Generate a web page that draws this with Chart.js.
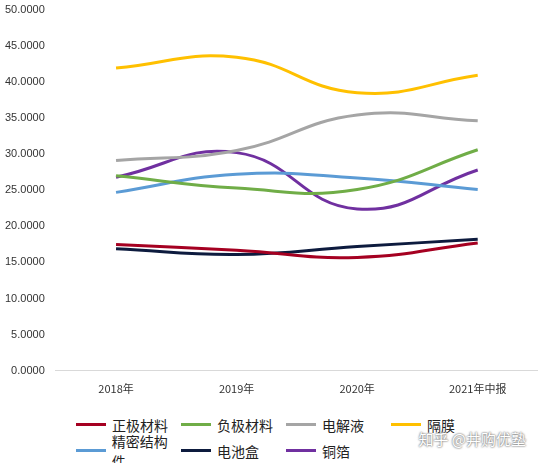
<!DOCTYPE html>
<html>
<head>
<meta charset="utf-8">
<script src="https://cdn.jsdelivr.net/npm/chart.js@4"></script>
<style>
  body { margin: 0; background: #fff; }
  #wrap { position: relative; width: 538px; height: 463px; }
  #mark { position: absolute; right: 12px; bottom: 14px; font: 15px "Noto Sans CJK SC"; color: #fff;
          text-shadow: 0 0 2px #777, 0 0 2px #777; }
  #legend { position: absolute; left: 76px; top: 410px; width: 460px; font: 14px "Noto Sans CJK SC"; color: #222; }
  .item { display: inline-flex; align-items: center; width: 105px; height: 23px; }
  .item span { display: inline-block; width: 30px; height: 3px; margin-right: 6px; }
</style>
</head>
<body>
<div id="wrap">
  <canvas id="chart" width="538" height="402"></canvas>
  <div id="legend"></div>
  <div id="mark">知乎 @井购优塾</div>
</div>
<script>
// Категории и значения серий
const categories = ['2018年', '2019年', '2020年', '2021年中报'];
const zhengji = [17.5, 16.7, 15.7, 17.7];
const fuji = [27.0, 25.3, 25.1, 30.6];
const dianjieye = [29.1, 30.5, 35.4, 34.6];
const gemo = [41.9, 43.4, 38.5, 40.9];
const jingmi = [24.7, 27.2, 26.7, 25.1];
const dianchihe = [16.9, 16.1, 17.2, 18.2];
const tongbo = [26.8, 30.2, 22.4, 27.8];

const series = [
  ['正极材料', zhengji, '#a50021'],
  ['负极材料', fuji, '#70ad47'],
  ['电解液', dianjieye, '#a5a5a5'],
  ['隔膜', gemo, '#ffc000'],
  ['精密结构件', jingmi, '#5b9bd5'],
  ['电池盒', dianchihe, '#0d1b3e'],
  ['铜箔', tongbo, '#7030a0']
];

// Легенда
document.getElementById('legend').innerHTML = series.map(([label, , color]) =>
  `<div class="item"><span style="background:${color}"></span>${label}</div>`).join('');

new Chart(document.getElementById('chart'), {
  type: 'line',
  data: {
    labels: categories,
    datasets: series.map(([label, data, color]) => ({
      label, data,
      borderColor: color,
      backgroundColor: color,
      borderWidth: 3,
      pointRadius: 0,
      tension: 0.45
    }))
  },
  options: {
    responsive: false,
    animation: false,
    layout: { padding: { top: 4, right: 0, left: 2, bottom: 4 } },
    plugins: {
      legend: { display: false },
      tooltip: { enabled: false }
    },
    scales: {
      x: {
        offset: true,
        grid: { display: false },
        border: { color: '#d9d9d9' },
        ticks: { font: { family: 'Noto Sans CJK SC', size: 11 }, color: '#333' }
      },
      y: {
        min: 0, max: 50,
        grid: { display: false },
        border: { display: false },
        ticks: {
          stepSize: 5,
          callback: v => v.toFixed(4),
          font: { family: 'Liberation Sans', size: 11 }, color: '#333'
        }
      }
    }
  }
});
</script>
</blockquote>
</body>
</html>
